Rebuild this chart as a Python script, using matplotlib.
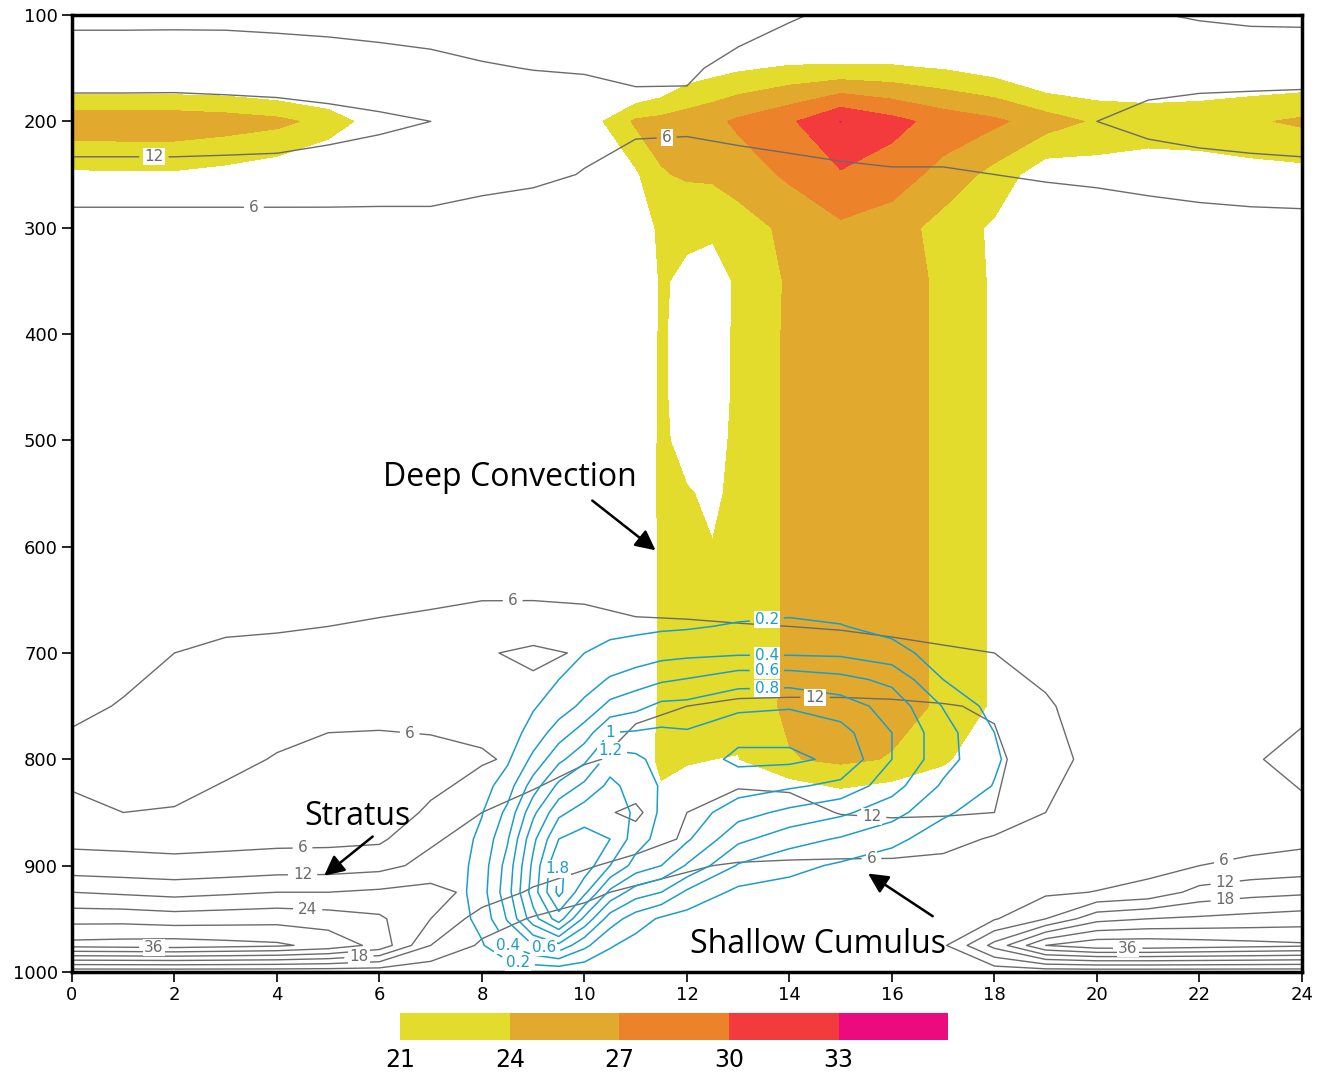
import matplotlib
matplotlib.use("Agg")
import matplotlib.pyplot as plt

# Shaded field (21-33 and above), coarse grid: local hour x pressure (hPa)
shade_hours = [0, 1, 2, 3, 4, 5, 6, 7, 8, 9, 10, 11, 11.5, 12, 12.5, 13,
               14, 15, 16, 17, 18, 19, 20, 21, 22, 23, 24]
shade_press = [100, 150, 200, 250, 300, 350, 400, 450, 500, 550, 600, 650,
               700, 750, 800, 850, 900, 1000]
shade_values = [
    [10, 10, 10, 10, 10, 10, 8, 6, 5, 5, 6, 8, 8.5, 9, 10, 11, 14, 15, 15, 14, 12, 10, 10, 10, 10, 10, 10],
    [16, 16, 16, 16, 15, 14, 12, 10, 8, 8, 10, 14, 16, 19, 19.8, 20.5, 21.4, 21.5, 21.4, 20.8, 19.5, 17, 17, 18, 18, 18, 18],
    [26, 26, 26, 25.5, 24.8, 23, 19, 14, 10, 12, 19, 24.5, 25, 25.5, 26.3, 27.5, 29.5, 33.05, 31, 28.8, 27.6, 25.5, 23.5, 22.5, 22.8, 23.6, 24.5],
    [20.5, 20.6, 20.6, 20, 19, 17, 14, 10, 8, 8, 12, 20.5, 23.8, 24.3, 24.5, 25.5, 27.5, 29.7, 28.5, 26, 23, 19, 19.5, 19.5, 19.5, 19.8, 20],
    [12, 12, 12, 12, 11, 10, 9, 8, 7, 7, 9, 19.5, 21.5, 22, 21.6, 22.5, 24.8, 26.5, 25.5, 22.8, 20.5, 15, 12, 12, 12, 12, 12],
    [8, 8, 8, 8, 8, 8, 8, 8, 8, 8, 8, 17, 21.5, 20, 19.5, 21.5, 24.4, 25.5, 25, 23.6, 20.5, 10, 8, 8, 8, 8, 8],
    [6, 6, 6, 6, 6, 6, 6, 6, 6, 6, 6, 17, 21.6, 19, 18.5, 22, 24.4, 25.5, 25, 23.6, 20.5, 8, 6, 6, 6, 6, 6],
    [6, 6, 6, 6, 6, 6, 6, 6, 6, 6, 6, 17, 21.6, 19, 18.5, 22, 24.4, 25.5, 25, 23.6, 20.5, 8, 6, 6, 6, 6, 6],
    [6, 6, 6, 6, 6, 6, 6, 6, 6, 6, 6, 17, 21.8, 19.5, 19.5, 22, 24.4, 25.5, 25, 23.6, 20.5, 8, 6, 6, 6, 6, 6],
    [6, 6, 6, 6, 6, 6, 6, 6, 6, 6, 6, 17, 22, 21.3, 20.3, 22, 24.4, 25.5, 25, 23.6, 20.5, 8, 6, 6, 6, 6, 6],
    [6, 6, 6, 6, 6, 6, 6, 6, 6, 6, 6, 17, 21.6, 22, 21.1, 22, 24.4, 25.5, 25, 23.6, 20.5, 8, 6, 6, 6, 6, 6],
    [6, 6, 6, 6, 6, 6, 6, 6, 6, 6, 6, 17, 21.6, 22, 22, 22, 24.4, 25.5, 25, 23.6, 20.5, 8, 6, 6, 6, 6, 6],
    [6, 6, 6, 6, 6, 6, 6, 6, 6, 6, 6, 17, 21.6, 22, 22, 22, 24.4, 25.5, 25, 23.6, 20.5, 8, 6, 6, 6, 6, 6],
    [6, 6, 6, 6, 6, 6, 6, 6, 6, 6, 6, 17, 21.8, 22, 22, 22, 24.6, 25.5, 25, 23.6, 20.5, 8, 6, 6, 6, 6, 6],
    [6, 6, 6, 6, 6, 6, 6, 6, 6, 6, 6, 17, 22.3, 21.5, 21, 20.9, 23.8, 24.6, 23.8, 21.8, 17, 6, 6, 6, 6, 6, 6],
    [5, 5, 5, 5, 5, 5, 5, 5, 5, 5, 5, 12, 19, 17, 16, 16, 16, 18, 17, 15, 12, 5, 5, 5, 5, 5, 5],
    [4, 4, 4, 4, 4, 4, 4, 4, 4, 4, 4, 4, 4, 4, 4, 4, 4, 4, 4, 4, 4, 4, 4, 4, 4, 4, 4],
    [4, 4, 4, 4, 4, 4, 4, 4, 4, 4, 4, 4, 4, 4, 4, 4, 4, 4, 4, 4, 4, 4, 4, 4, 4, 4, 4],
]
shade_levels = [21, 24, 27, 30, 33, 36]
shade_colors = ['#e3dc2c', '#e1aa2e', '#ec8229', '#f33b3e', '#ec0b7e']

# Gray contour field (6-36)
gray_hours = list(range(0, 25))
gray_press = [100, 150, 200, 250, 300, 400, 500, 600, 650, 700, 750, 800,
              850, 875, 900, 925, 950, 975, 1000]
gray_values = [
    [5, 5, 5, 5, 4.8, 4.6, 4.4, 4.2, 4, 3.8, 3.6, 3.5, 3.5, 4.5, 5.5, 7, 7.5, 7.5, 7.5, 7.5, 7, 6.3, 5.6, 5, 4.8],
    [8.5, 8.5, 8.6, 8.5, 8.3, 8, 7.5, 7, 6.3, 5.9, 5.8, 5.2, 5.5, 7, 9, 11, 11, 11, 11, 11, 11, 9, 9.3, 9.7, 10],
    [16, 16, 16, 15.5, 15, 14, 13, 12, 10, 8.5, 7.5, 7.5, 7, 8.5, 9, 9, 9, 9, 9, 9, 12, 14, 15, 15, 15],
    [10, 10, 10, 10, 10, 9.5, 9, 9, 8, 7, 5.8, 3, 3.5, 3, 4, 5, 5.5, 5.5, 6, 6.5, 7, 8, 9, 10, 10.5],
    [3.5, 3.5, 3.5, 3.5, 3.5, 3.8, 4, 4, 3, 3, 2.5, 2, 2, 2, 2, 2, 2, 2, 3, 3, 3, 3, 3.3, 3.4, 3.5],
    [2, 2, 2, 2, 2, 2, 2, 2, 2, 2, 2, 2, 2, 2, 2, 2, 2, 2, 2, 2, 2, 2, 2, 2, 2],
    [2, 2, 2, 2, 2, 2, 2, 2, 2, 2, 2, 2, 2, 2, 2, 2, 2, 2, 2, 2, 2, 2, 2, 2, 2],
    [3, 3, 3, 3, 3, 3, 3, 3, 3, 3, 3, 3, 3, 3, 3, 3, 3, 3, 3, 3, 3, 3, 3, 3, 3],
    [3, 3.5, 4.5, 4.8, 5, 5.2, 5.4, 5.6, 5.9, 5.9, 5.5, 5.3, 5.2, 5.1, 5, 4.8, 4.6, 4.3, 3.8, 3, 2.5, 2.5, 2.5, 2.5, 3],
    [4.5, 4.5, 6, 6.5, 6.6, 6.8, 7.2, 7.8, 11.5, 13, 11.5, 7.5, 7.4, 7.15, 7, 6.9, 6.6, 6.3, 6, 4.5, 3, 2.5, 2.5, 3, 4],
    [5, 6.3, 7, 7.2, 7.4, 7.5, 7.5, 8, 9, 10, 11, 11.5, 12, 12.8, 13, 13, 12.8, 12.3, 11.5, 6.5, 4, 3.5, 3.5, 4.5, 5],
    [7.5, 6.8, 6.8, 6.8, 5.8, 4.5, 4.2, 4.3, 5.2, 8, 11.5, 13, 14, 14.5, 14.5, 14, 13.5, 13, 13, 9, 3.5, 3, 3, 5.5, 7.5],
    [5, 6, 5.9, 4.8, 4.5, 4.3, 4.3, 6.5, 12, 15, 16.5, 19, 12, 10, 10.5, 12.2, 12.5, 12.5, 12, 6, 2.5, 2, 2, 3.5, 5],
    [4.5, 4.3, 4.1, 4.3, 4.5, 4.6, 5, 11, 15, 16, 16.5, 16, 11, 9.5, 9, 9.5, 10, 9, 5, 4, 2, 2, 2.5, 3.5, 4.5],
    [8.5, 8, 7.5, 8, 8.8, 9, 10, 14, 17, 16, 13, 9, 6.5, 5.5, 5.2, 4.8, 4.5, 3.5, 2.5, 2.5, 3, 4, 6, 7.5, 8.5],
    [18, 17, 16, 17, 18, 18, 19, 20, 16, 11, 7, 5, 4.5, 4, 3.5, 3, 3, 3, 4, 5, 6.2, 8, 14, 16, 17],
    [28, 28, 27, 27.5, 28, 27, 25, 18, 9, 5.5, 4.5, 4, 3.5, 3, 3, 3, 3, 4, 5.5, 12, 22, 24, 25, 26, 27],
    [38, 38.5, 39, 38, 37, 34, 28, 12, 5, 4, 3.5, 3, 3, 3, 3, 3, 3.5, 5, 20, 36, 40, 40, 39, 38, 37],
    [2, 2, 2, 2, 2, 2, 2, 2, 2, 2, 2, 2, 2, 2, 2, 2, 2, 2, 2, 2, 2, 2, 2, 2, 2],
]
gray_levels = [6, 12, 18, 24, 30, 36]

# Blue contour field (0.2-1.8), lower troposphere only
blue_hours = [7, 7.5, 8, 8.5, 9, 9.5, 10, 10.5, 11, 11.5, 12, 13, 14, 15, 16, 17, 18, 19]
blue_press = [650, 675, 700, 725, 750, 775, 800, 825, 850, 875, 900, 925, 950, 975, 1000]
blue_values = [
    [0, 0, 0.02, 0.02, 0.02, 0.05, 0.07, 0.08, 0.08, 0.1, 0.1, 0.1, 0.12, 0.1, 0.05, 0.02, 0.01, 0.01],
    [0, 0, 0.02, 0.02, 0.05, 0.08, 0.12, 0.15, 0.16, 0.17, 0.18, 0.22, 0.24, 0.21, 0.13, 0.05, 0.02, 0.01],
    [0, 0, 0.03, 0.03, 0.08, 0.14, 0.2, 0.25, 0.28, 0.33, 0.35, 0.37, 0.37, 0.36, 0.28, 0.1, 0.02, 0.01],
    [0, 0, 0.04, 0.04, 0.12, 0.2, 0.3, 0.42, 0.5, 0.57, 0.61, 0.72, 0.72, 0.66, 0.55, 0.2, 0.05, 0.01],
    [0, 0.02, 0.05, 0.06, 0.18, 0.3, 0.45, 0.66, 0.74, 0.85, 0.86, 0.95, 0.98, 0.9, 0.72, 0.39, 0.12, 0.01],
    [0, 0.03, 0.07, 0.1, 0.28, 0.5, 0.7, 1.0, 1.02, 1.04, 1.02, 1.15, 1.15, 1.07, 0.8, 0.48, 0.2, 0.01],
    [0.02, 0.05, 0.09, 0.17, 0.45, 0.75, 0.95, 1.3, 1.25, 1.12, 1.1, 1.24, 1.24, 1.16, 0.8, 0.48, 0.23, 0.01],
    [0.04, 0.07, 0.12, 0.3, 0.7, 1.05, 1.25, 1.45, 1.32, 1.18, 1.14, 1.1, 1.03, 0.95, 0.68, 0.37, 0.19, 0.01],
    [0.06, 0.09, 0.19, 0.45, 0.95, 1.35, 1.5, 1.58, 1.35, 1.17, 1.12, 0.88, 0.75, 0.64, 0.48, 0.23, 0.1, 0.01],
    [0.08, 0.1, 0.25, 0.58, 1.15, 1.6, 1.68, 1.6, 1.3, 1.12, 1.03, 0.65, 0.48, 0.38, 0.25, 0.1, 0.05, 0.01],
    [0.1, 0.11, 0.3, 0.68, 1.25, 1.82, 1.72, 1.4, 1.12, 1.0, 0.78, 0.38, 0.26, 0.17, 0.1, 0.05, 0.02, 0.01],
    [0.11, 0.12, 0.32, 0.72, 1.3, 1.86, 1.45, 0.95, 0.7, 0.6, 0.36, 0.15, 0.12, 0.08, 0.05, 0.02, 0.01, 0.01],
    [0.1, 0.11, 0.27, 0.62, 1.12, 1.5, 0.95, 0.5, 0.3, 0.17, 0.12, 0.06, 0.05, 0.04, 0.02, 0.01, 0.01, 0.01],
    [0.06, 0.07, 0.18, 0.4, 0.6, 0.75, 0.45, 0.22, 0.12, 0.08, 0.05, 0.03, 0.02, 0.02, 0.01, 0.01, 0.01, 0.01],
    [0.02, 0.02, 0.05, 0.05, 0.05, 0.05, 0.05, 0.05, 0.04, 0.03, 0.02, 0.01, 0.01, 0.01, 0.01, 0.01, 0.01, 0.01],
]
blue_levels = [0.2, 0.4, 0.6, 0.8, 1.0, 1.2, 1.4, 1.6, 1.8]

# Where the contour labels sit (hour, hPa)
gray_label_spots = [(11.6, 212), (1.6, 230), (3.55, 283), (8.6, 652), (6.6, 770),
                    (4.5, 885), (4.5, 910), (4.6, 940), (1.6, 976), (5.6, 986),
                    (14.5, 742), (15.6, 857), (15.6, 890), (22.5, 902),
                    (22.5, 915), (22.5, 930), (20.6, 977)]
blue_label_spots = [(13.56, 669), (13.56, 702), (13.56, 718), (13.56, 731),
                    (10.5, 774), (10.5, 791), (9.45, 903), (8.5, 975),
                    (9.2, 978), (8.7, 992)]

fig = plt.figure(figsize=(13.25, 10.74), dpi=100)
ax = fig.add_axes([0.0543, 0.095, 0.9283, 0.891])

cf = ax.contourf(shade_hours, shade_press, shade_values,
                 levels=shade_levels, colors=shade_colors)
cs_gray = ax.contour(gray_hours, gray_press, gray_values,
                     levels=gray_levels, colors='#6b6b6b', linewidths=1.0)
cs_blue = ax.contour(blue_hours, blue_press, blue_values,
                     levels=blue_levels, colors='#1c9dc9', linewidths=1.1)

gray_txt = ax.clabel(cs_gray, manual=gray_label_spots, inline=True,
                     fmt='%d', fontsize=11)
blue_txt = ax.clabel(cs_blue, manual=blue_label_spots, inline=True,
                     fmt=lambda v: f'{v:g}', fontsize=11)
# labels stay upright, on a small white patch
for t in list(gray_txt) + list(blue_txt):
    t.set_rotation(0)
    t.set_bbox(dict(facecolor='white', edgecolor='none', pad=0.8))

ax.set_xlim(0, 24)
ax.set_ylim(1000, 100)
ax.set_xticks(range(0, 25, 2))
ax.set_yticks(range(100, 1001, 100))
ax.tick_params(direction='out', length=7, width=1.2, labelsize=13, pad=3)
for s in ax.spines.values():
    s.set_linewidth(2.5)

# Cloud regime annotations
note_font = dict(fontsize=23, family='Open Sans', ha='center', va='center')
arrow = dict(arrowstyle='-|>', color='black', lw=1.8, mutation_scale=30)
ax.text(8.55, 535, 'Deep Convection', **note_font)
ax.annotate('', xy=(11.43, 605), xytext=(10.11, 555), arrowprops=arrow)
ax.text(5.58, 854, 'Stratus', **note_font)
ax.annotate('', xy=(4.88, 911), xytext=(5.91, 871), arrowprops=arrow)
ax.text(14.56, 974, 'Shallow Cumulus', **note_font)
ax.annotate('', xy=(15.49, 906), xytext=(16.84, 949), arrowprops=arrow)

# Colour key under the plot
cax = fig.add_axes([0.302, 0.0317, 0.4136, 0.0251])
cb = fig.colorbar(cf, cax=cax, orientation='horizontal', ticks=shade_levels[:-1])
cb.outline.set_visible(False)
cax.tick_params(length=0, labelsize=17, pad=6)

fig.savefig('out.png', dpi=100)
